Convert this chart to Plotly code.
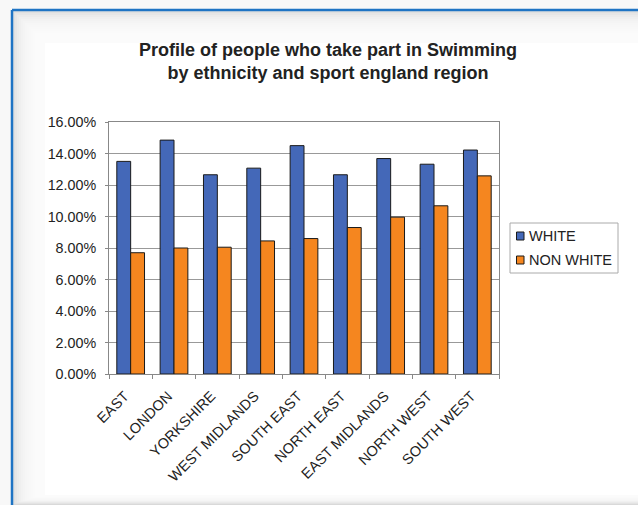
import plotly.graph_objects as go

regions = ["EAST", "LONDON", "YORKSHIRE", "WEST MIDLANDS", "SOUTH EAST",
           "NORTH EAST", "EAST MIDLANDS", "NORTH WEST", "SOUTH WEST"]
white = [0.135, 0.1485, 0.1265, 0.1307, 0.145, 0.1265, 0.1368, 0.1332, 0.1422]
non_white = [0.077, 0.080, 0.0805, 0.0845, 0.086, 0.093, 0.0996, 0.1068, 0.1258]
series_names = ["WHITE", "NON WHITE"]
series_colors = ["#4468B8", "#F5861F"]
y_ticks = [0, 0.02, 0.04, 0.06, 0.08, 0.10, 0.12, 0.14, 0.16]

W, H = 638, 505
L, R, T, B = 109, 499, 122, 374


def px(x):
    return (x - L) / (R - L)


def py(y):
    return (B - y) / (B - T)


fig = go.Figure()
for name, vals, col in zip(series_names, [white, non_white], series_colors):
    fig.add_trace(go.Bar(x=regions, y=vals, name=name, showlegend=False,
                         marker=dict(color=col, line=dict(color="#1a1a1a", width=1))))

shapes = []
# soft shadow inside the frame
shapes.append(dict(type="rect", xref="paper", yref="paper",
                   x0=px(13), x1=px(W + 5), y0=py(H + 5), y1=py(11),
                   fillcolor="#d9d9d9", line=dict(width=0), layer="below"))
for i in range(16):
    d = i * 2
    shapes.append(dict(type="rect", xref="paper", yref="paper",
                       x0=px(13 + d), x1=px(W + 5), y0=py(H - 1 - d * 0.3), y1=py(11 + d),
                       fillcolor="rgba(255,255,255,0.2)", line=dict(width=0), layer="below"))
shapes.append(dict(type="rect", xref="paper", yref="paper",
                   x0=px(45), x1=px(W + 5), y0=py(H - 10), y1=py(43),
                   fillcolor="rgba(255,255,255,0.9)", line=dict(width=0), layer="below"))
# blue frame
shapes.append(dict(type="line", xref="paper", yref="paper",
                   x0=px(12), x1=px(12), y0=py(H + 5), y1=py(10),
                   line=dict(color="#1F74C4", width=2.5)))
shapes.append(dict(type="line", xref="paper", yref="paper",
                   x0=px(12), x1=px(W + 5), y0=py(10), y1=py(10),
                   line=dict(color="#1F74C4", width=2.5)))
# legend box
shapes.append(dict(type="rect", xref="paper", yref="paper",
                   x0=px(510), x1=px(618), y0=py(273), y1=py(223),
                   fillcolor="white", line=dict(color="#aaa", width=1)))
annotations = []
for i, (name, col) in enumerate(zip(series_names, series_colors)):
    cy = 236 + i * 24
    shapes.append(dict(type="rect", xref="paper", yref="paper",
                       x0=px(516.5), x1=px(524), y0=py(cy + 4), y1=py(cy - 4),
                       fillcolor=col, line=dict(color="#1a1a1a", width=1)))
    annotations.append(dict(text=name, xref="paper", yref="paper", x=px(527), y=py(cy),
                            xanchor="left", yanchor="middle", showarrow=False,
                            font=dict(size=14.5, color="#222")))

fig.update_layout(
    width=W, height=H,
    margin=dict(l=L, r=W - R, t=T, b=H - B),
    paper_bgcolor="#f8f8f8", plot_bgcolor="white",
    font=dict(family="Liberation Sans, Arial, sans-serif", color="#222", size=12),
    title=dict(text="<b>Profile of people who take part in Swimming<br>by ethnicity and sport england region</b>",
               x=px(328), xref="paper", xanchor="center", y=1 - 55.5 / H, yanchor="middle",
               font=dict(size=18, color="#222")),
    barmode="group", bargap=0.36, bargroupgap=0,
    xaxis=dict(tickangle=-45, ticks="outside", tickson="boundaries", ticklen=4,
               tickcolor="#888", showline=True, linecolor="#888", mirror=True,
               tickfont=dict(size=14.5), showgrid=False,
               ticklabelstandoff=7, ticklabelshift=-6),
    yaxis=dict(range=[0, 0.16], tickvals=y_ticks, tickformat=".2%", ticks="outside",
               ticklen=3, tickcolor="#888", showline=True, linecolor="#888", mirror=True,
               gridcolor="#999", gridwidth=1, tickfont=dict(size=14.3), zeroline=False,
               ticklabelstandoff=6),
    shapes=shapes,
    annotations=annotations,
    showlegend=False,
)

fig.write_html("out.html")
